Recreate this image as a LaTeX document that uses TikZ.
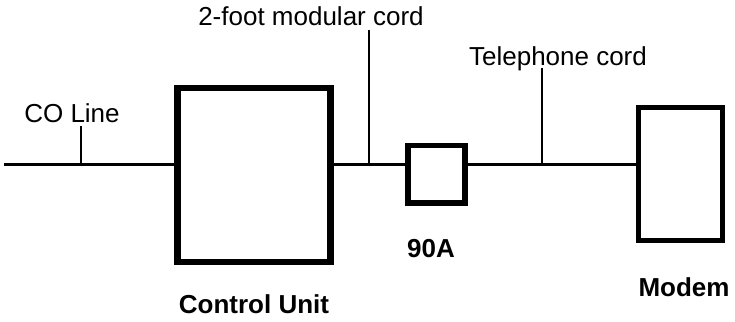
\documentclass[tikz,border=0pt]{standalone}
\usepackage{fontspec}
\setmainfont{Liberation Sans}
\begin{document}
\begin{tikzpicture}[x=1pt,y=-1pt,
  unitbox/.style={draw, rectangle, inner sep=0pt, outer sep=0pt},
  lbl/.style={anchor=base, inner sep=0pt, font=\fontsize{26}{30}\selectfont},
  blbl/.style={anchor=base, inner sep=0pt, font=\fontsize{26}{30}\selectfont\bfseries},
  cordline/.style={line width=2.5pt},
  tick/.style={line width=1.5pt}]
\useasboundingbox (0,0) rectangle (735,321);
% boxes
\node[unitbox, line width=6.5pt, minimum width=153pt, minimum height=174pt] (cu) at (254,175) {};
\node[unitbox, line width=5.5pt, minimum width=57pt, minimum height=57.5pt] (ninety) at (436.5,174.25) {};
\node[unitbox, line width=5pt, minimum width=84pt, minimum height=133pt] (modem) at (680.5,174) {};
% main line
\coordinate (start) at (4,164.5);
\draw[cordline] (start) -- (start -| cu.west);
\draw[cordline] (cu.east |- start) -- (ninety.west |- start);
\draw[cordline] (ninety.east |- start) -- (modem.west |- start);
% ticks
\coordinate (cotop) at (81,126);
\coordinate (modtop) at (369,30);
\coordinate (teltop) at (542,68);
\draw[tick] (cotop) -- (cotop |- start);
\draw[tick] (modtop) -- (modtop |- start);
\draw[tick] (teltop) -- (teltop |- start);
% labels
\node[lbl] (colbl) at (72,122) {CO Line};
\node[lbl] (modlbl) at (311,26) {2-foot modular cord};
\node[lbl] (tellbl) at (558,65) {Telephone cord};
\node[blbl] (ninetylbl) at (431,257) {90A};
\node[blbl] (culbl) at (254,313) {Control Unit};
\node[blbl] (modemlbl) at (684,296) {Modem};
\end{tikzpicture}
\end{document}
